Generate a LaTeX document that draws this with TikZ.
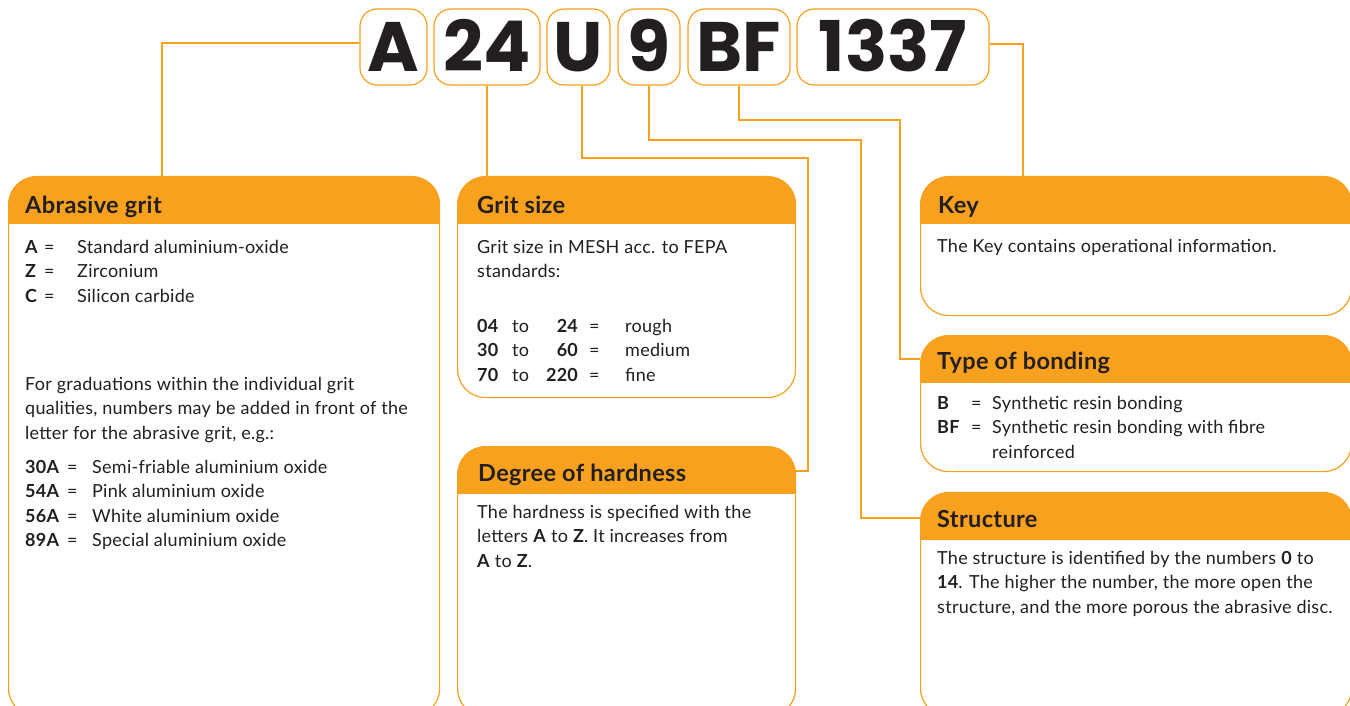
\documentclass[tikz,border=0pt]{standalone}
\usepackage{fontspec}
\setmainfont{Lato}[LetterSpace=1.5]
\newfontfamily\bigfont{Poppins}
\definecolor{orng}{HTML}{F7A11F}
\definecolor{txt}{HTML}{231F20}
\begin{document}
\begin{tikzpicture}[x=1pt,y=-1pt,
  card/.style={draw=orng, line width=1.2pt, rounded corners=28pt, anchor=north west, inner sep=0pt, fill=white,
    path picture={\fill[orng, sharp corners] ([yshift=2pt]path picture bounding box.north west) rectangle ([yshift=-47pt]path picture bounding box.north east);}},
  code/.style={draw=orng, line width=1.2pt, rounded corners=17pt, fill=white, inner sep=0pt, minimum height=76pt,
    text height=49pt, text depth=0pt, font=\bigfont\bfseries\fontsize{70}{70}\selectfont, text=txt},
  ttl/.style={anchor=base west, inner sep=0pt, font=\bfseries\fontsize{23.5}{28}\selectfont, text=txt},
  body/.style={anchor=base west, inner sep=0pt, font=\fontsize{18}{24.5}\selectfont, text=txt},
  link/.style={draw=orng, line width=1.1pt}]
\useasboundingbox (0,0) rectangle (1350,706);

% code boxes
\node[code, minimum width=67pt]  (bA)    at (393.5,47) {A};
\node[code, minimum width=106pt] (b24)   at (487,47)   {24};
\node[code, minimum width=63pt]  (bU)    at (578.5,47) {U};
\node[code, minimum width=62pt]  (b9)    at (649,47)   {9};
\node[code, minimum width=102pt] (bBF)   at (739,47)   {BF};
\node[code, minimum width=192pt] (b1337) at (893,47)   {1337};

% cards
\node[card, minimum width=431pt, minimum height=540pt] (grit)   at (8,176)   {};
\node[card, minimum width=338pt, minimum height=221pt] (size)   at (457,176) {};
\node[card, minimum width=338pt, minimum height=270pt] (hard)   at (457,446) {};
\node[card, minimum width=431pt, minimum height=139pt] (key)    at (920,176) {};
\node[card, minimum width=431pt, minimum height=136pt] (bond)   at (920,335) {};
\node[card, minimum width=431pt, minimum height=224pt] (struct) at (920,492) {};

% connectors
\coordinate (u1) at (582,158);
\coordinate (u2) at (808,158);
\coordinate (n1) at (649,140);
\coordinate (n2) at (861,140);
\coordinate (f1) at (739,120);
\coordinate (f2) at (900,120);
\draw[link] ([yshift=4pt]bA.west) -| ([xshift=154pt]grit.north west);
\draw[link] (b24.south) -- (b24.south |- size.north);
\draw[link] ([xshift=3.5pt]bU.south) -- (u1) -- (u2) |- ([yshift=-25pt]hard.north east);
\draw[link] (b9.south) -- (n1) -- (n2) |- ([yshift=-26pt]struct.north west);
\draw[link] (bBF.south) -- (f1) -- (f2) |- ([yshift=-24pt]bond.north west);
\draw[link] ([yshift=3pt]b1337.east) -| ([xshift=103pt]key.north west);

% Abrasive grit
\node[ttl] (t1) at (25,213) {Abrasive grit};
\node[body] (g1) at (25,253) {\begin{tabular}[t]{@{}l@{}}
\makebox[19pt][l]{\textbf{A}}\makebox[33pt][l]{=}Standard aluminium-oxide\\
\makebox[19pt][l]{\textbf{Z}}\makebox[33pt][l]{=}Zirconium\\
\makebox[19pt][l]{\textbf{C}}\makebox[33pt][l]{=}Silicon carbide
\end{tabular}};
\node[body] (g2) at (25,390) {\begin{tabular}[t]{@{}l@{}}
For graduations within the individual grit\\
qualities, numbers may be added in front of the\\
letter for the abrasive grit, e.g.:
\end{tabular}};
\node[body] (g3) at (25,473) {\begin{tabular}[t]{@{}l@{}}
\makebox[42pt][l]{\textbf{30A}}\makebox[25pt][l]{=}Semi-friable aluminium oxide\\
\makebox[42pt][l]{\textbf{54A}}\makebox[25pt][l]{=}Pink aluminium oxide\\
\makebox[42pt][l]{\textbf{56A}}\makebox[25pt][l]{=}White aluminium oxide\\
\makebox[42pt][l]{\textbf{89A}}\makebox[25pt][l]{=}Special aluminium oxide
\end{tabular}};

% Grit size
\node[ttl] (t2) at (477,213) {Grit size};
\node[body] (s1) at (477,253) {\begin{tabular}[t]{@{}l@{}}
Grit size in MESH acc. to FEPA\\
standards:
\end{tabular}};
\node[body] (s2) at (477,332) {\begin{tabular}[t]{@{}l@{}}
\makebox[35pt][l]{\textbf{04}}\makebox[28pt][l]{to}\makebox[38pt][r]{\textbf{24}}\hspace{11pt}\makebox[36pt][l]{=}rough\\
\makebox[35pt][l]{\textbf{30}}\makebox[28pt][l]{to}\makebox[38pt][r]{\textbf{60}}\hspace{11pt}\makebox[36pt][l]{=}medium\\
\makebox[35pt][l]{\textbf{70}}\makebox[28pt][l]{to}\makebox[38pt][r]{\textbf{220}}\hspace{11pt}\makebox[36pt][l]{=}fine
\end{tabular}};

% Degree of hardness
\node[ttl] (t3) at (478,481) {Degree of hardness};
\node[body] (h1) at (477,518) {\begin{tabular}[t]{@{}l@{}}
The hardness is specified with the\\
letters \textbf{A} to \textbf{Z}. It increases from\\
\textbf{A} to \textbf{Z}.
\end{tabular}};

% Key
\node[ttl] (t4) at (938,213) {Key};
\node[body] (k1) at (937,252) {The Key contains operational information.};

% Type of bonding
\node[ttl] (t5) at (937,369) {Type of bonding};
\node[body] (o1) at (937,409) {\begin{tabular}[t]{@{}l@{}}
\makebox[34pt][l]{\textbf{B}}\makebox[21pt][l]{=}Synthetic resin bonding\\
\makebox[34pt][l]{\textbf{BF}}\makebox[21pt][l]{=}Synthetic resin bonding with fibre\\
\hspace{55pt}reinforced
\end{tabular}};

% Structure
\node[ttl] (t6) at (937,527) {Structure};
\node[body] (r1) at (937,564) {\begin{tabular}[t]{@{}l@{}}
The structure is identified by the numbers \textbf{0} to\\
\textbf{14}. The higher the number, the more open the\\
structure, and the more porous the abrasive disc.
\end{tabular}};
\end{tikzpicture}
\end{document}
